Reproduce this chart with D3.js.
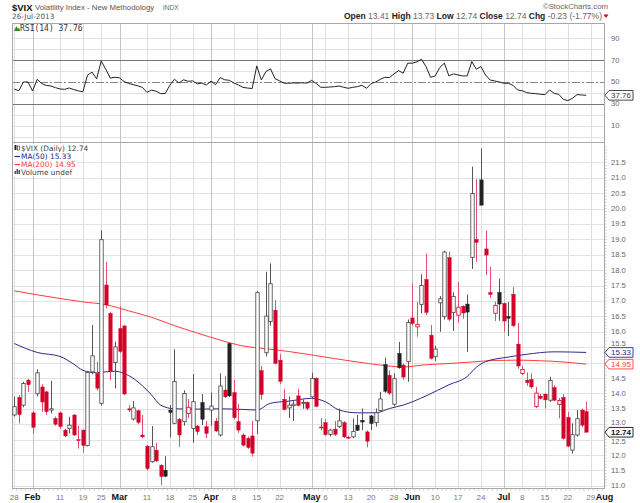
<!DOCTYPE html>
<html>
<head>
<meta charset="utf-8">
<script src="https://cdnjs.cloudflare.com/ajax/libs/d3/7.8.5/d3.min.js"></script>
<style>
  body { margin: 0; background: #fff; }
  svg { display: block; font-family: "Liberation Sans", Arial, sans-serif; }
</style>
</head>
<body>
<div id="chart"></div>
<script>
const WIDTH = 640, HEIGHT = 503;

// daily candles, one per trading day from 28-Jan-2013 to 26-Jul-2013
const prevClose = 12.89; // close of 25-Jan, only used to colour the first candle
const opens = [13.30,13.87,13.62,14.43,13.37,13.99,14.21,14.05,13.46,13.19,
  13.37,12.81,12.86,13.30,12.50,12.81,12.31,14.70,14.65,13.68,
  17.52,16.60,15.00,16.11,16.19,13.50,13.17,13.44,12.65,12.29,
  11.78,12.16,11.67,11.51,13.46,13.03,13.16,13.08,13.35,12.86,
  12.94,13.71,12.92,13.46,13.10,12.65,14.11,15.62,14.03,13.09,
  12.65,12.54,12.62,13.11,14.74,15.32,16.33,16.70,15.08,13.81,
  13.53,13.60,13.92,13.70,13.71,13.89,14.49,12.91,13.05,12.67,
  12.84,12.92,13.05,12.58,12.59,12.97,13.13,12.75,13.27,13.05,
  13.44,14.94,14.59,13.65,15.30,14.92,15.03,16.45,16.16,16.89,
  17.70,15.89,15.19,16.94,16.49,18.41,16.63,16.54,16.83,16.90,
  18.41,19.00,20.93,18.69,17.27,16.60,17.28,16.92,16.50,17.22,
  15.60,14.65,14.43,14.45,13.57,13.91,13.98,13.78,14.19,13.64,
  13.87,13.22,12.16,12.65,13.46,13.41];
const highs = [13.90,13.95,14.38,14.47,13.42,14.78,14.30,14.08,14.41,13.25,
  13.41,12.85,13.24,13.33,12.95,12.83,14.72,16.22,15.03,19.30,
  18.27,16.65,15.68,16.83,16.22,13.62,13.75,13.47,13.30,12.32,
  12.94,12.40,11.70,11.96,13.62,15.43,13.20,14.10,13.82,14.63,
  12.97,13.98,13.10,14.03,13.20,14.65,14.57,15.65,14.45,13.65,
  12.70,12.60,13.11,17.32,14.89,17.95,18.22,17.03,15.28,14.15,
  13.90,13.75,14.15,13.80,13.74,14.67,14.52,13.20,13.16,12.85,
  13.10,13.51,13.10,12.62,13.19,13.30,13.51,12.80,13.30,13.51,
  14.05,15.16,14.75,14.65,15.67,14.97,16.40,17.57,16.97,17.87,
  18.54,16.22,15.55,17.16,18.63,18.60,17.28,17.62,16.86,17.21,
  21.36,20.95,21.95,19.28,18.11,16.98,17.73,16.95,16.97,17.45,
  16.29,14.90,14.68,14.65,14.21,13.98,13.98,14.54,14.27,13.85,
  13.98,13.40,13.03,13.46,13.51,13.73];
const lows = [13.25,13.03,13.55,14.05,12.70,13.90,13.40,13.30,13.35,12.95,
  12.85,12.58,12.70,12.62,12.21,12.08,12.28,14.62,14.10,13.60,
  16.76,14.43,14.16,15.30,13.95,13.40,13.12,13.00,12.55,11.50,
  11.75,11.78,11.02,11.28,12.57,13.00,12.27,12.95,13.20,12.40,
  12.65,12.97,12.55,12.95,12.75,12.60,13.85,13.88,13.15,12.72,
  12.28,12.20,11.95,12.68,13.80,15.20,16.20,14.95,14.30,13.45,
  13.20,13.11,13.58,13.50,13.45,13.85,13.55,12.80,12.62,12.60,
  12.62,12.88,12.55,12.52,12.55,12.78,12.81,12.25,12.81,12.92,
  13.40,14.02,13.95,13.58,14.80,14.45,14.38,16.20,15.84,16.60,
  16.55,15.10,15.05,16.00,16.40,16.35,16.03,16.30,16.42,15.35,
  18.04,18.27,20.10,17.84,17.10,16.35,16.36,16.00,15.86,16.15,
  14.80,14.60,14.25,14.15,13.52,13.80,13.51,13.72,13.75,13.19,
  12.50,12.25,12.05,12.60,12.90,12.74];
const closes = [13.57,13.31,14.32,14.28,12.90,14.67,13.72,13.41,13.50,13.00,
  12.92,12.62,12.97,12.65,12.48,12.31,14.68,15.22,14.17,18.99,
  16.87,14.73,15.51,15.36,13.98,13.46,13.53,13.06,12.59,11.56,
  12.27,11.81,11.30,11.31,13.38,14.39,12.65,14.00,13.55,13.73,
  12.76,13.16,12.70,13.59,12.78,14.24,13.89,13.92,13.21,12.81,
  12.32,12.24,12.06,17.27,13.96,16.51,17.56,14.97,14.39,13.48,
  13.62,13.65,13.61,13.71,13.52,14.49,13.58,12.88,12.66,12.81,
  12.67,13.11,12.59,12.55,12.77,12.80,13.07,12.45,13.02,13.37,
  13.82,14.07,14.01,14.48,14.83,14.53,16.30,16.27,16.24,17.50,
  16.63,15.14,15.44,17.07,18.59,16.41,17.15,16.80,16.61,16.64,
  20.49,18.90,20.11,18.49,17.21,16.86,16.90,16.35,16.44,16.20,
  14.89,14.78,14.35,14.21,14.01,13.84,13.79,14.42,13.78,13.77,
  12.54,12.29,12.66,13.18,12.97,12.74];

// RSI(14), one value per trading day
const rsi = [43.5,42.0,50.0,50.0,41.7,52.4,48.5,46.8,46.3,44.8,
  43.6,43.2,44.5,43.0,41.8,41.0,56.2,59.0,52.8,69.3,
  61.5,53.5,54.3,53.8,50.3,48.6,47.5,46.5,45.0,40.5,
  42.5,41.5,39.3,39.4,47.0,52.5,49.0,52.0,50.6,51.0,
  48.2,49.0,47.2,50.8,47.5,54.0,52.0,51.5,49.0,47.2,
  45.0,44.4,44.0,64.7,51.8,59.5,62.0,53.0,51.0,48.8,
  48.8,49.1,49.0,49.2,49.0,51.5,48.5,45.1,45.1,45.4,
  45.7,46.3,45.1,44.2,45.1,45.7,46.9,44.2,48.5,50.0,
  52.4,54.3,54.0,57.4,60.4,58.0,67.2,67.2,68.4,70.8,
  64.1,54.3,55.5,63.2,67.2,55.5,57.4,56.4,55.5,55.5,
  68.7,61.6,64.1,56.4,51.8,50.9,50.0,48.8,48.8,46.9,
  42.7,42.0,40.2,39.6,39.3,38.7,38.4,42.7,39.6,38.7,
  34.1,32.9,35.0,38.4,38.1,37.76];

// moving averages read at selected trading days
const ma50Idx = [0,5,10,13,15,18,20,22,25,28,30,32,35,40,45,50,53,56,60,65,68,71,75,79,82,85,90,95,99,101,103,108,112,118,125];
const ma50 = [15.62,15.33,15.20,14.95,14.75,14.67,14.70,14.72,14.58,14.25,13.95,13.62,13.50,13.49,13.50,13.48,13.46,13.68,13.75,13.84,13.73,13.46,13.37,13.37,13.51,13.62,13.92,14.28,14.55,14.85,15.03,15.18,15.27,15.35,15.33];
const ma200Idx = [0,5,10,15,20,25,30,35,40,45,50,55,60,65,70,75,80,85,90,95,100,105,110,115,120,125];
const ma200 = [17.33,17.20,17.08,16.97,16.88,16.68,16.47,16.20,15.96,15.73,15.54,15.45,15.36,15.25,15.13,15.02,14.92,14.86,14.93,14.97,15.02,15.07,15.08,15.06,15.02,14.95];

// date axis (trading-day index of each label)
const tickIdx = [0,4,10,15,19,23,29,34,39,43,48,53,58,65,68,73,78,83,87,92,97,102,107,111,116,121,126,129];
const tickLabels = ["28","Feb","11","19","25","Mar","11","18","25","Apr","8","15","22","May","6","13","20","28","Jun","10","17","24","Jul","8","15","22","29","Aug"];
const monthLabels = ["Feb","Mar","Apr","May","Jun","Jul","Aug"];

const priceTicks = d3.range(11, 21.51, 0.5);
const rsiLabels = [90, 70, 50, 30, 10];
const rsiGrid = [0, 10, 20, 40, 60, 80, 90];

const RED = "#d4002a", BLACK = "#222", BLUE = "#2a2a8c", MARED = "#ff3b3b";
const LEFT = 12, RIGHT = 604;
const RSI_TOP = 23, MAIN_TOP = 142, MAIN_BOTTOM = 488;

const svg = d3.select("#chart").append("svg")
  .attr("width", WIDTH).attr("height", HEIGHT);

const x = d3.scaleLinear().domain([-0.5, 128.9]).range([LEFT, RIGHT]);
const y = d3.scaleLinear().domain([10.93, 22.16]).range([MAIN_BOTTOM, MAIN_TOP]);
const yR = d3.scaleLinear().domain([-5, 104]).range([MAIN_TOP, RSI_TOP]);

// ---- grids ----
const grid = svg.append("g");
grid.selectAll(".hg").data(priceTicks).enter().append("line")
  .attr("x1", LEFT).attr("x2", RIGHT)
  .attr("y1", d => Math.round(y(d)) + 0.5).attr("y2", d => Math.round(y(d)) + 0.5)
  .attr("stroke", "#e3e3e3");
grid.selectAll(".rg").data(rsiGrid).enter().append("line")
  .attr("x1", LEFT).attr("x2", RIGHT)
  .attr("y1", d => Math.round(yR(d)) + 0.5).attr("y2", d => Math.round(yR(d)) + 0.5)
  .attr("stroke", "#e3e3e3");
grid.selectAll(".vg").data(tickIdx.filter(i => x(i) < RIGHT - 1)).enter().append("line")
  .attr("x1", d => Math.round(x(d)) + 0.5).attr("x2", d => Math.round(x(d)) + 0.5)
  .attr("y1", RSI_TOP).attr("y2", MAIN_BOTTOM)
  .attr("stroke", (d, i) => monthLabels.includes(tickLabels[i]) ? "#c4c4c4" : "#e0e0e0");

// rsi reference lines
[70, 30].forEach(v => {
  svg.append("line").attr("x1", LEFT).attr("x2", RIGHT)
    .attr("y1", Math.round(yR(v)) + 0.5).attr("y2", Math.round(yR(v)) + 0.5)
    .attr("stroke", "#777");
});
svg.append("line").attr("x1", LEFT).attr("x2", RIGHT)
  .attr("y1", Math.round(yR(50)) + 0.5).attr("y2", Math.round(yR(50)) + 0.5)
  .attr("stroke", "#888").attr("stroke-dasharray", "8,2,2,2");

// panel frames
svg.append("rect").attr("x", LEFT + 0.5).attr("y", RSI_TOP + 0.5)
  .attr("width", RIGHT - LEFT).attr("height", MAIN_TOP - RSI_TOP)
  .attr("fill", "none").attr("stroke", "#a8a8a8");
svg.append("rect").attr("x", LEFT + 0.5).attr("y", MAIN_TOP + 0.5)
  .attr("width", RIGHT - LEFT).attr("height", MAIN_BOTTOM - MAIN_TOP)
  .attr("fill", "none").attr("stroke", "#a8a8a8");

// ---- moving averages ----
const maLine = d3.line().x(d => x(d[0])).y(d => y(d[1])).curve(d3.curveMonotoneX);
svg.append("path").datum(ma200Idx.map((d, i) => [d, ma200[i]]))
  .attr("d", maLine).attr("fill", "none").attr("stroke", MARED).attr("stroke-width", 1);
svg.append("path").datum(ma50Idx.map((d, i) => [d, ma50[i]]))
  .attr("d", maLine).attr("fill", "none").attr("stroke", BLUE).attr("stroke-width", 1);

// ---- candles ----
const candles = closes.map((c, i) => ({
  i, o: opens[i], h: highs[i], l: lows[i], c,
  up: c >= (i === 0 ? prevClose : closes[i - 1])
}));
const cg = svg.append("g");
cg.selectAll(".wick").data(candles).enter().append("line")
  .attr("x1", d => Math.round(x(d.i)) + 0.5).attr("x2", d => Math.round(x(d.i)) + 0.5)
  .attr("y1", d => y(d.h)).attr("y2", d => y(d.l))
  .attr("stroke", d => d.up ? "#555" : "#e0506a").attr("stroke-width", 1);
cg.selectAll(".body").data(candles).enter().append("rect")
  .attr("x", d => Math.round(x(d.i)) - 1.2)
  .attr("width", 3.4)
  .attr("y", d => y(Math.max(d.o, d.c)))
  .attr("height", d => Math.max(1, Math.abs(y(d.o) - y(d.c))))
  .attr("fill", d => d.c < d.o ? (d.up ? BLACK : RED) : "#fff")
  .attr("stroke", d => d.up ? (d.c < d.o ? BLACK : "#444") : RED)
  .attr("stroke-width", d => d.c < d.o ? 0.4 : 0.8);

// ---- rsi line ----
svg.append("path").datum(rsi)
  .attr("d", d3.line().x((d, i) => x(i)).y(d => yR(d)))
  .attr("fill", "none").attr("stroke", "#222").attr("stroke-width", 1);

// ---- value tags on the right ----
const tags = [
  { v: y(ma50[ma50.length - 1]), t: "15.33", c: BLUE, b: false },
  { v: y(ma200[ma200.length - 1]), t: "14.95", c: MARED, b: false },
  { v: y(closes[closes.length - 1]), t: "12.74", c: "#111", b: true },
  { v: yR(rsi[rsi.length - 1]), t: "37.76", c: "#333", b: false }
];
// labels hidden under a tag are skipped, labels touching one are nudged away
const covered = py => tags.some(g => Math.abs(g.v - py) < 4);
function nudge(py) {
  let off = 0;
  tags.forEach(g => {
    const d = py - g.v;
    if (Math.abs(d) < 9.5) off = Math.sign(d) * Math.min(3.5, 9.5 - Math.abs(d));
  });
  return off;
}

// ---- right axes ----
svg.selectAll(".pl").data(priceTicks.filter(d => !covered(y(d)))).enter().append("text")
  .attr("x", 611).attr("y", d => y(d) + 2.5 + nudge(y(d)))
  .attr("font-size", "7.6px").attr("fill", "#666")
  .text(d => d.toFixed(1));
svg.selectAll(".rl").data(rsiLabels).enter().append("text")
  .attr("x", 611).attr("y", d => yR(d) + 2.5)
  .attr("font-size", "7.6px").attr("fill", "#666")
  .text(d => d);
svg.selectAll(".rt").data(d3.range(11, 22.01, 0.1)).enter().append("line")
  .attr("x1", RIGHT + 1).attr("x2", RIGHT + 3)
  .attr("y1", d => y(d)).attr("y2", d => y(d))
  .attr("stroke", "#bbb").attr("stroke-width", 0.6);

// ---- date axis ----
svg.selectAll(".dt").data(d3.range(-0.5, 129, 1)).enter().append("line")
  .attr("x1", d => x(d)).attr("x2", d => x(d))
  .attr("y1", MAIN_BOTTOM + 1).attr("y2", MAIN_BOTTOM + 3)
  .attr("stroke", "#bbb").attr("stroke-width", 0.6);
svg.selectAll(".dl").data(tickIdx).enter().append("text")
  .attr("x", d => x(d)).attr("y", 500)
  .attr("text-anchor", "middle")
  .attr("font-size", (d, i) => monthLabels.includes(tickLabels[i]) ? "9px" : "8px")
  .attr("font-weight", (d, i) => monthLabels.includes(tickLabels[i]) ? "bold" : "normal")
  .attr("fill", (d, i) => monthLabels.includes(tickLabels[i]) ? "#111" : "#777")
  .text((d, i) => tickLabels[i]);

tags.forEach(g => {
  const yp = g.v;
  svg.append("path")
    .attr("d", `M605,${yp} L609,${yp - 4.8} L633,${yp - 4.8} L633,${yp + 4.8} L609,${yp + 4.8} Z`)
    .attr("fill", "#fff").attr("stroke", g.c).attr("stroke-width", 0.9);
  svg.append("text").attr("x", 621).attr("y", yp + 2.8).attr("text-anchor", "middle")
    .attr("font-size", "8px").attr("fill", g.c)
    .attr("font-weight", g.b ? "bold" : "normal").text(g.t);
});

// ---- header ----
svg.append("text").attr("x", 12).attr("y", 10.5).attr("font-size", "9.5px")
  .attr("font-weight", "bold").attr("fill", "#111").text("$VIX");
svg.append("text").attr("x", 35).attr("y", 10).attr("font-size", "7.8px")
  .attr("fill", "#555").text("Volatility Index - New Methodology");
svg.append("text").attr("x", 163).attr("y", 10).attr("font-size", "6.5px")
  .attr("fill", "#666").text("INDX");
svg.append("text").attr("x", 12).attr("y", 19).attr("font-size", "7.3px")
  .attr("font-family", "DejaVu Sans, sans-serif")
  .attr("fill", "#555").text("26-Jul-2013");
svg.append("text").attr("x", 608).attr("y", 9).attr("text-anchor", "end")
  .attr("font-size", "7.8px").attr("fill", "#666").text("\u00a9StockCharts.com");

const quote = svg.append("text").attr("x", 602).attr("y", 18.5)
  .attr("text-anchor", "end").attr("font-size", "8.5px");
[["Open ", true], ["13.41 ", false], ["High ", true], ["13.73 ", false],
 ["Low ", true], ["12.74 ", false], ["Close ", true], ["12.74 ", false],
 ["Chg ", true], ["-0.23 (-1.77%)", false]].forEach(([t, b]) => {
  quote.append("tspan").attr("font-weight", b ? "bold" : "normal")
    .attr("fill", b ? "#222" : "#666").text(t);
});
svg.append("path").attr("d", "M603.5,14.5 L608.5,14.5 L606,18 Z").attr("fill", RED);

// ---- legends ----
svg.append("path").attr("d", "M14,31 L16.5,26 L18,29 L19,27.5 L20,31 Z").attr("fill", "#2e8b2e");
svg.append("text").attr("x", 20).attr("y", 31).attr("font-size", "8px")
  .attr("font-family", "DejaVu Sans Mono, monospace").attr("fill", "#333").text("RSI(14) 37.76");

const legendRows = [
  { t: "$VIX (Daily) 12.74", c: "#444", y: 151 },
  { t: "MA(50) 15.33", c: BLUE, y: 159 },
  { t: "MA(200) 14.95", c: MARED, y: 167 },
  { t: "Volume undef", c: "#444", y: 175 }
];
legendRows.forEach(r => {
  const txt = svg.append("text").attr("x", 21).attr("y", r.y)
    .attr("font-size", "7.4px").attr("font-family", "DejaVu Sans, sans-serif")
    .attr("fill", r.c).text(r.t);
  const w = txt.node().getComputedTextLength();
  svg.insert("rect", () => txt.node()).attr("x", 14).attr("y", r.y - 7)
    .attr("width", w + 8).attr("height", 8).attr("fill", "#fff");
});
svg.append("rect").attr("x", 14.5).attr("y", 145).attr("width", 2).attr("height", 5).attr("fill", "#222");
svg.append("rect").attr("x", 17.5).attr("y", 146).attr("width", 2).attr("height", 4).attr("fill", "#fff").attr("stroke", "#222").attr("stroke-width", 0.6);
svg.append("line").attr("x1", 14.5).attr("x2", 20).attr("y1", 156.5).attr("y2", 156.5).attr("stroke", BLUE).attr("stroke-width", 1.2);
svg.append("line").attr("x1", 14.5).attr("x2", 20).attr("y1", 164.5).attr("y2", 164.5).attr("stroke", MARED).attr("stroke-width", 1.2);
[[14.5, 3], [16.5, 5], [18.5, 4]].forEach(([bx, bh]) => {
  svg.append("rect").attr("x", bx).attr("y", 174 - bh).attr("width", 1.4).attr("height", bh).attr("fill", "#444");
});
</script>
</body>
</html>
